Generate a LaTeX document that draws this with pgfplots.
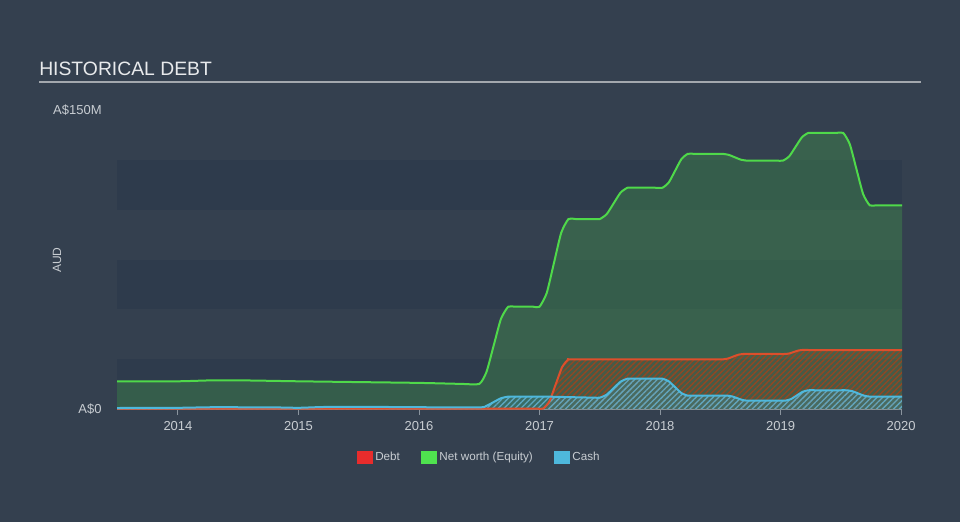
\documentclass[border=0pt]{standalone}
\usepackage{pgfplots}
\pgfplotsset{compat=1.18}
\usepackage{pgfplotstable}
\usepackage{fontspec}
\setmainfont{Liberation Sans}
\usetikzlibrary{patterns.meta}

\definecolor{bgcol}{HTML}{34404F}
\definecolor{bandcol}{HTML}{2E3B4C}
\definecolor{titlecol}{HTML}{E8EAEC}
\definecolor{rulecol}{HTML}{A3A8AE}
\definecolor{labcol}{HTML}{C8CDD2}
\definecolor{axcol}{HTML}{8A949E}
\definecolor{eqline}{HTML}{4FD94A}
\definecolor{eqleg}{HTML}{4FE24F}
\definecolor{debtline}{HTML}{DC4F2C}
\definecolor{debtleg}{HTML}{E82C2C}
\definecolor{cashline}{HTML}{4EB8DC}

% values in A$ millions
\pgfplotstableread{
year   val
2013.494 13.9
2014.0   13.9
2014.3   14.4
2014.6   14.3
2015.0   13.9
2015.5   13.5
2016.0   13.1
2016.35  12.6
2016.5   12.6
2016.56  18.6
2016.62  31.9
2016.68  45.2
2016.74  51.3
2016.80  51.3
2016.95  51.3
2017.00  51.3
2017.06  58.2
2017.12  73.3
2017.18  88.4
2017.24  95.3
2017.30  95.3
2017.45  95.3
2017.50  95.3
2017.5575 97.75
2017.615 103.15
2017.6725 108.55
2017.73  111.0
2017.79  111.0
2017.96  111.0
2018.02  111.0
2018.0725 113.65
2018.125 119.5
2018.1775 125.35
2018.23  128.0
2018.29  128.0
2018.46  128.0
2018.52  128.0
2018.57  127.5
2018.62  126.3
2018.67  125.1
2018.72  124.6
2018.78  124.6
2018.96  124.6
2019.02  124.6
2019.0725 126.8
2019.125 131.55
2019.1775 136.3
2019.23  138.5
2019.29  138.5
2019.46  138.5
2019.52  138.5
2019.575 132.8
2019.63  120.35
2019.685 107.9
2019.74  102.2
2019.80  102.2
2020.008 102.2
}\equity

\pgfplotstableread{
year   val
2013.494 0.2
2016.50  0.2
2016.90  0.2
2016.98  0.2
2017.03  0.2
2017.0825 3.9
2017.135 12.45
2017.1875 21.0
2017.24  24.9
2017.30  24.9
2018.46  24.9
2018.52  24.9
2018.5625 25.3
2018.605 26.25
2018.6475 27.2
2018.69  27.6
2018.75  27.6
2018.98  27.6
2019.04  27.6
2019.075 27.9
2019.11  28.6
2019.145 29.3
2019.18  29.6
2019.24  29.6
2020.008 29.6
}\debt

\pgfplotstableread{
year   val
2013.494 0.5
2014.0   0.6
2014.3   0.9
2014.8   0.8
2015.0   0.6
2015.2   1.0
2015.5   1.1
2016.0   0.9
2016.5   0.8
2016.56  1.6
2016.62  3.5
2016.68  5.4
2016.74  6.2
2016.80  6.2
2017.06  6.2
2017.44  5.7
2017.5   5.7
2017.5575 7.2
2017.615 10.45
2017.6725 13.7
2017.73  15.2
2017.79  15.2
2017.96  15.2
2018.02  15.2
2018.0725 13.9
2018.125 10.95
2018.1775 8.0
2018.23  6.7
2018.29  6.7
2018.50  6.7
2018.56  6.7
2018.60  6.3
2018.64  5.45
2018.68  4.6
2018.72  4.2
2018.78  4.2
2018.98  4.2
2019.04  4.2
2019.0875 5.0
2019.135 6.8
2019.1825 8.6
2019.23  9.4
2019.29  9.4
2019.49  9.4
2019.55  9.4
2019.5975 8.9
2019.645 7.8
2019.6925 6.7
2019.74  6.2
2019.80  6.2
2020.008 6.2
}\cash

\begin{document}
\begin{tikzpicture}[x=0.75pt,y=0.75pt]
% page background, 960 x 522 px
\fill[bgcol] (0,0) rectangle (960,522);
\node[anchor=base west,inner sep=0,text=titlecol,font=\fontsize{14.5}{16}\selectfont] at (39,446.5) {HISTORICAL DEBT};
\draw[rulecol,line width=1.5pt] (39,440) -- (921,440);
\node[rotate=90,text=labcol,font=\fontsize{9}{10}\selectfont] at (57,262) {AUD};

\begin{axis}[
    at={(87.75pt,84.75pt)}, anchor=south west,
    scale only axis,
    width=588.75pt, height=224.25pt,
    xmin=2013.494, xmax=2020.008,
    ymin=0, ymax=150,
    axis lines*=left,
    axis line style={-},
    x axis line style={axcol,line width=0.75pt},
    y axis line style={draw=none},
    xtick={2014,2015,2016,2017,2018,2019,2020},
    xticklabels={2014,2015,2016,2017,2018,2019,2020},
    ytick={0,150},
    yticklabels={A\$0,A\$150M},
    xtick align=outside,
    major tick length=4.5pt,
    x tick style={axcol,line width=0.75pt},
    y tick style={draw=none},
    tick label style={text=labcol,font=\fontsize{9.75}{11}\selectfont},
    xticklabel style={yshift=-1pt},
    yticklabel style={anchor=east,xshift=-8pt},
    legend style={at={(0.462,-0.1605)},anchor=center,draw=none,fill=none,
        legend columns=3,text=labcol,font=\fontsize{8.75}{10}\selectfont,
        /tikz/every even column/.append style={column sep=14pt}},
    legend cell align=left,
    every axis plot/.append style={smooth,tension=0.35},
]
% background bands
\fill[bandcol] (2013.494,0) rectangle (2020.008,25);
\fill[bandcol] (2013.494,50) rectangle (2020.008,75);
\fill[bandcol] (2013.494,100) rectangle (2020.008,125);

\addlegendimage{legend image code/.code={\fill[debtleg] (0pt,-4.5pt) rectangle (11.25pt,4.5pt);}}
\addlegendentry{Debt}
\addlegendimage{legend image code/.code={\fill[eqleg] (0pt,-4.5pt) rectangle (11.25pt,4.5pt);}}
\addlegendentry{Net worth (Equity)}
\addlegendimage{legend image code/.code={\fill[cashline] (0pt,-4.5pt) rectangle (11.25pt,4.5pt);}}
\addlegendentry{Cash}

% equity area
\addplot[forget plot,draw=none,fill=eqline,fill opacity=0.22] table {\equity} \closedcycle;
% debt area, hatched
\addplot[forget plot,draw=none,fill=debtline,fill opacity=0.10] table {\debt} \closedcycle;
\addplot[forget plot,draw=none,pattern={Lines[angle=45,distance=3pt,line width=1pt]},pattern color=debtline!70!black!90!eqline] table {\debt} \closedcycle;
% cash area, hatched
\addplot[forget plot,draw=none,fill=cashline,fill opacity=0.18] table {\cash} \closedcycle;
\addplot[forget plot,draw=none,pattern={Lines[angle=45,distance=3pt,line width=1pt]},pattern color=cashline!70!gray] table {\cash} \closedcycle;
% lines
\addplot[forget plot,eqline,line width=1.5pt] table {\equity};
\addplot[forget plot,debtline,line width=1.5pt] table {\debt};
\addplot[forget plot,cashline,line width=1.5pt] table {\cash};
\end{axis}
\end{tikzpicture}
\end{document}
